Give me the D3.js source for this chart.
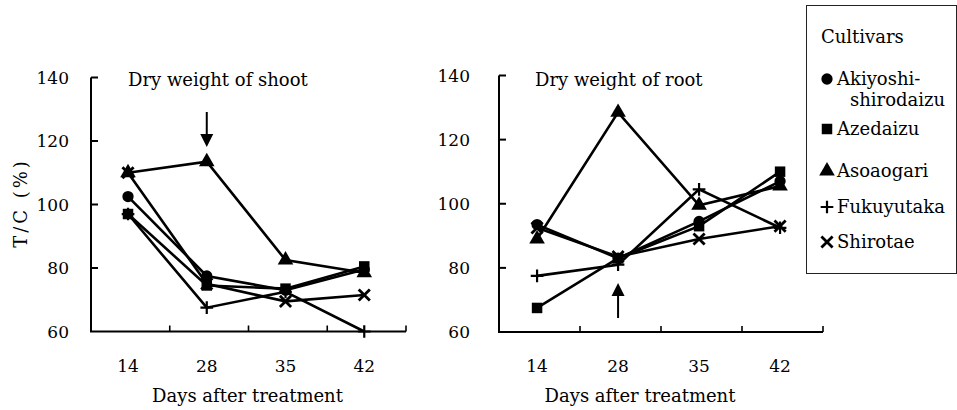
<!DOCTYPE html>
<meta charset="utf-8">
<style>
body {
  margin: 0;
  background: #fff;
}
text {
  font-family: "DejaVu Serif", serif;
  fill: #000;
}
.tick-label {
  font-size: 17px;
}
.title, .xlabel, .legend-text {
  font-size: 18px;
}
.line {
  fill: none;
  stroke: #000;
  stroke-width: 2.6;
}
.axis-line {
  fill: none;
  stroke: #000;
  stroke-width: 2;
}
</style>
<body>
<script src="https://cdn.jsdelivr.net/npm/d3@7"></script>
<script>

var width = 957,
    height = 410;

var days = ["14", "28", "35", "42"];
var yTicks = [60, 80, 100, 120, 140];

var cultivars = ["Akiyoshi-shirodaizu", "Azedaizu", "Asoaogari", "Fukuyutaka", "Shirotae"];
var markers = ["circle", "square", "triangle", "plus", "cross"];

// T/C (%) for dry weight of shoot
var shootAkiyoshi   = [102.5, 77.5, 73, 79.5];
var shootAzedaizu   = [97, 74.5, 73.5, 80.5];
var shootAsoaogari  = [110, 113.5, 82.5, 78.5];
var shootFukuyutaka = [97, 67.5, 72.5, 60];
var shootShirotae   = [110, 75, 69.5, 71.5];

// T/C (%) for dry weight of root
var rootAkiyoshi   = [93.5, 83, 94.5, 107];
var rootAzedaizu   = [67.5, 83, 93, 110];
var rootAsoaogari  = [89, 128.5, 99.5, 105.5];
var rootFukuyutaka = [77.5, 81, 104.5, 92.5];
var rootShirotae   = [92.5, 83.5, 89, 93];

var shootSeries = [shootAkiyoshi, shootAzedaizu, shootAsoaogari, shootFukuyutaka, shootShirotae];
var rootSeries  = [rootAkiyoshi, rootAzedaizu, rootAsoaogari, rootFukuyutaka, rootShirotae];

// thin stroked symbols for + and x
var plusType = {
  draw: function(ctx, size) {
    var r = Math.sqrt(size) / 2;
    ctx.moveTo(-r, 0); ctx.lineTo(r, 0);
    ctx.moveTo(0, -r); ctx.lineTo(0, r);
  }
};
var crossType = {
  draw: function(ctx, size) {
    var r = Math.sqrt(size) / 2;
    ctx.moveTo(-r, -r); ctx.lineTo(r, r);
    ctx.moveTo(-r, r); ctx.lineTo(r, -r);
  }
};

function markerPath(kind, scale) {
  scale = scale || 1;
  if (kind == "circle") return d3.symbol(d3.symbolCircle, 100 * scale)();
  if (kind == "square") return d3.symbol(d3.symbolSquare, 110 * scale)();
  if (kind == "triangle") return d3.symbol(d3.symbolTriangle, 105 * scale)();
  if (kind == "plus") return d3.symbol(plusType, 160 * scale)();
  return d3.symbol(crossType, 125 * scale)();
}

function styleMarker(sel, kind) {
  if (kind == "plus" || kind == "cross") {
    sel.attr("fill", "none").attr("stroke", "#000")
      .attr("stroke-width", kind == "plus" ? 2.2 : 2.8);
  } else {
    sel.attr("fill", "#000").attr("stroke", "none");
  }
}

var svg = d3.select("body").append("svg")
    .attr("width", width)
    .attr("height", height);

svg.append("rect")
    .attr("width", width)
    .attr("height", height)
    .attr("fill", "#fff");

function drawPanel(opts) {
  var x = d3.scaleBand()
      .domain(days)
      .range(opts.xRange)
      .padding(0);

  var y = d3.scaleLinear()
      .domain([60, 140])
      .range(opts.yRange);

  var cx = function(d) { return x(d) + x.bandwidth() * 0.47; };

  var g = svg.append("g");

  // axes drawn as plain L-shaped frame with inward ticks
  g.append("path")
      .attr("class", "axis-line")
      .attr("d", "M" + opts.xRange[0] + "," + y(140) + "V" + y(60) + "H" + opts.xRange[1]);

  g.selectAll(".ytick")
      .data(yTicks.filter(function(v) { return v > 60; }))
    .enter().append("line")
      .attr("stroke", "#000")
      .attr("stroke-width", 2)
      .attr("x1", opts.xRange[0])
      .attr("x2", opts.xRange[0] + 7)
      .attr("y1", function(d) { return y(d); })
      .attr("y2", function(d) { return y(d); });

  var bounds = days.slice(1).map(function(d) { return x(d); }).concat([opts.xRange[1]]);
  g.selectAll(".xtick")
      .data(bounds)
    .enter().append("line")
      .attr("stroke", "#000")
      .attr("stroke-width", 1.6)
      .attr("x1", function(d) { return d; })
      .attr("x2", function(d) { return d; })
      .attr("y1", y(60))
      .attr("y2", y(60) - 6);

  if (opts.showYLabels) {
    g.selectAll(".ylab")
        .data(yTicks)
      .enter().append("text")
        .attr("class", "tick-label")
        .attr("text-anchor", "end")
        .attr("x", opts.xRange[0] - opts.yLabelGap)
        .attr("y", function(d) { return y(d) + 6; })
        .text(function(d) { return d; });
  }

  g.selectAll(".xlab")
      .data(days)
    .enter().append("text")
      .attr("class", "tick-label")
      .attr("text-anchor", "middle")
      .attr("x", cx)
      .attr("y", 372)
      .text(function(d) { return d; });

  g.append("text")
      .attr("class", "xlabel")
      .attr("text-anchor", "middle")
      .attr("x", (opts.xRange[0] + opts.xRange[1]) / 2 + opts.xLabelShift)
      .attr("y", 402)
      .text("Days after treatment");

  g.append("text")
      .attr("class", "title")
      .attr("x", opts.titleX)
      .attr("y", 86)
      .text(opts.title);

  var line = d3.line()
      .x(function(d, i) { return cx(days[i]); })
      .y(function(d) { return y(d); });

  opts.series.forEach(function(vals, k) {
    g.append("path")
        .attr("class", "line")
        .attr("d", line(vals));
  });

  opts.series.forEach(function(vals, k) {
    var kind = markers[k];
    g.selectAll(".m" + k)
        .data(vals)
      .enter().append("path")
        .attr("d", markerPath(kind))
        .attr("transform", function(d, i) { return "translate(" + cx(days[i]) + "," + y(d) + ")"; })
        .call(styleMarker, kind);
  });

  // arrow at day 28
  var ax = cx("28");
  var a = opts.arrow;
  g.append("line")
      .attr("stroke", "#000")
      .attr("stroke-width", 2)
      .attr("x1", ax).attr("x2", ax)
      .attr("y1", a.tail).attr("y2", a.base);
  g.append("path")
      .attr("fill", "#000")
      .attr("d", "M" + (ax - 6.5) + "," + a.base + "L" + (ax + 6.5) + "," + a.base + "L" + ax + "," + a.tip + "Z");
}

drawPanel({
  xRange: [91, 406],
  yRange: [331.5, 77.5],
  series: shootSeries,
  title: "Dry weight of shoot",
  titleX: 128,
  showYLabels: true,
  yLabelGap: 22,
  xLabelShift: -1,
  arrow: {tail: 112, base: 134, tip: 147}
});

drawPanel({
  xRange: [499, 823],
  yRange: [332, 75.5],
  series: rootSeries,
  title: "Dry weight of root",
  titleX: 535,
  showYLabels: true,
  yLabelGap: 29,
  xLabelShift: -21,
  arrow: {tail: 318, base: 296, tip: 283}
});

// y axis title
svg.append("text")
    .attr("class", "title")
    .attr("text-anchor", "middle")
    .attr("letter-spacing", "3px")
    .attr("transform", "translate(27,203) rotate(-90)")
    .text("T/C (%)");

// legend
var legend = svg.append("g");

legend.append("rect")
    .attr("x", 806.5)
    .attr("y", 5.5)
    .attr("width", 150)
    .attr("height", 268)
    .attr("fill", "none")
    .attr("stroke", "#222")
    .attr("stroke-width", 1);

legend.append("text")
    .attr("class", "legend-text")
    .attr("x", 821)
    .attr("y", 43)
    .text("Cultivars");

var legendY = [79, 129, 171, 207, 242];

var items = legend.selectAll(".item")
    .data(cultivars)
  .enter().append("g")
    .attr("transform", function(d, i) { return "translate(0," + legendY[i] + ")"; });

items.append("path")
    .attr("transform", "translate(827,0)")
    .each(function(d, i) {
      d3.select(this).attr("d", markerPath(markers[i], 1.0)).call(styleMarker, markers[i]);
    });

items.append("text")
    .attr("class", "legend-text")
    .attr("x", 837)
    .attr("y", 6)
    .each(function(d, i) {
      var t = d3.select(this);
      if (i == 0) {
        t.append("tspan").text("Akiyoshi-");
        t.append("tspan").attr("x", 850).attr("dy", 21).text("shirodaizu");
      } else {
        t.text(d);
      }
    });

</script>
</body>
